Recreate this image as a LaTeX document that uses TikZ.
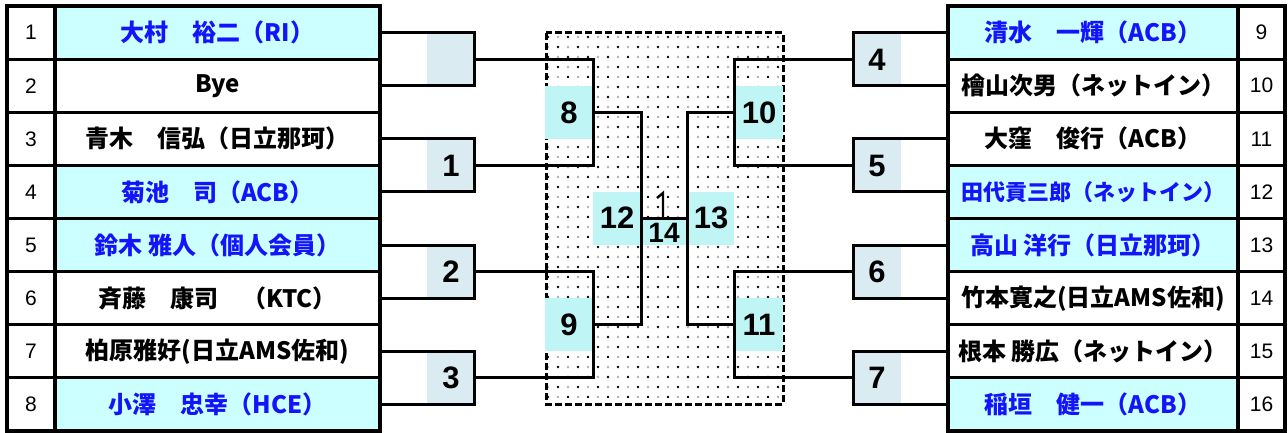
\documentclass[tikz,border=0pt]{standalone}
\usepackage{fontspec}
\setmainfont{Noto Sans CJK JP}
\newfontfamily\numfont{Liberation Sans}
\definecolor{cyanrow}{RGB}{204,255,255}
\definecolor{nameblue}{RGB}{20,20,250}
\definecolor{rfill}{RGB}{218,235,241}
\definecolor{cfill}{RGB}{192,245,245}
\tikzset{
  cell/.style={draw, line width=3.2pt, minimum height=53.125pt, inner sep=0pt, outer sep=0pt},
  namecell/.style={cell, minimum width=325pt, font=\fontsize{24}{26}\selectfont\bfseries},
  rnamecell/.style={cell, minimum width=290pt, font=\fontsize{24}{26}\selectfont\bfseries},
  numcell/.style={cell, minimum width=48pt, font=\numfont\fontsize{21}{23}\selectfont},
  hi/.style={fill=cyanrow, text=nameblue},
  bline/.style={line width=3pt},
  rlab/.style={font=\numfont\bfseries\fontsize{31}{33}\selectfont, inner sep=0pt},
}
\begin{document}
\begin{tikzpicture}[x=1pt,y=-1pt]
\useasboundingbox (0,0) rectangle (1288,433);
% ---------- dotted centre area ----------
\begin{scope}
\clip (546,33) rectangle (783,404);
\fill[white] (546,33) rectangle (783,404);
\foreach \r in {0,...,37}{
  \foreach \c in {0,...,12}{
    \fill[black] ({548+20*\c+10*mod(\r,2)},{37+10*\r}) circle (1.4pt);
    \fill[gray!60] ({558+20*\c-10*mod(\r,2)},{37+10*\r}) circle (1.3pt);
  }
}
\end{scope}
\draw[line width=3pt, dash pattern=on 7pt off 3pt] (546,33) rectangle (783,404);
% ---------- round boxes (fills) ----------
\fill[rfill] (427,32.6) rectangle (474,85.7);
\fill[rfill] (427,138.8) rectangle (474,191.9);
\fill[rfill] (427,245.1) rectangle (474,298.2);
\fill[rfill] (427,351.3) rectangle (474,404.4);
\fill[rfill] (853,32.6) rectangle (901,85.7);
\fill[rfill] (853,138.8) rectangle (901,191.9);
\fill[rfill] (853,245.1) rectangle (901,298.2);
\fill[rfill] (853,351.3) rectangle (901,404.4);
\fill[cfill] (545,85.7) rectangle (593,138.8);
\fill[cfill] (545,298.2) rectangle (593,351.3);
\fill[cfill] (734,85.7) rectangle (783,138.8);
\fill[cfill] (734,298.2) rectangle (783,351.3);
\fill[cfill] (593,191.9) rectangle (641,245.1);
\fill[cfill] (687,191.9) rectangle (734,245.1);
\fill[cfill] (641,218.5) rectangle (687,245.1);
% ---------- left table ----------
\node[numcell] (LN1) at (31,32.6) {1};
\node[numcell] (LN2) at (31,85.7) {2};
\node[numcell] (LN3) at (31,138.8) {3};
\node[numcell] (LN4) at (31,191.9) {4};
\node[numcell] (LN5) at (31,245.1) {5};
\node[numcell] (LN6) at (31,298.2) {6};
\node[numcell] (LN7) at (31,351.3) {7};
\node[numcell] (LN8) at (31,404.4) {8};
\node[namecell,hi] (L1) at (217.5,32.6) {大村　裕二（RI）};
\node[namecell] (L2) at (217.5,85.7) {Bye};
\node[namecell] (L3) at (217.5,138.8) {青木　信弘（日立那珂）};
\node[namecell,hi] (L4) at (217.5,191.9) {菊池　司（ACB）};
\node[namecell,hi] (L5) at (217.5,245.1) {鈴木 雅人（個人会員）};
\node[namecell] (L6) at (217.5,298.2) {斉藤　康司　（KTC）};
\node[namecell] (L7) at (217.5,351.3) {柏原雅好(日立AMS佐和)};
\node[namecell,hi] (L8) at (217.5,404.4) {小澤　忠幸（HCE）};
% ---------- right table ----------
\node[rnamecell,hi] (R1) at (1093,32.6) {清水　一輝（ACB）};
\node[rnamecell] (R2) at (1093,85.7) {檜山次男（ネットイン）};
\node[rnamecell] (R3) at (1093,138.8) {大窪　俊行（ACB）};
\node[rnamecell,hi,font=\fontsize{22}{24}\selectfont\bfseries] (R4) at (1093,191.9) {田代貢三郎（ネットイン）};
\node[rnamecell,hi] (R5) at (1093,245.1) {高山 洋行（日立那珂）};
\node[rnamecell] (R6) at (1093,298.2) {竹本寛之(日立AMS佐和)};
\node[rnamecell] (R7) at (1093,351.3) {根本 勝広（ネットイン）};
\node[rnamecell,hi] (R8) at (1093,404.4) {稲垣　健一（ACB）};
\node[numcell,minimum width=47pt] (RN1) at (1261.5,32.6) {9};
\node[numcell,minimum width=47pt] (RN2) at (1261.5,85.7) {10};
\node[numcell,minimum width=47pt] (RN3) at (1261.5,138.8) {11};
\node[numcell,minimum width=47pt] (RN4) at (1261.5,191.9) {12};
\node[numcell,minimum width=47pt] (RN5) at (1261.5,245.1) {13};
\node[numcell,minimum width=47pt] (RN6) at (1261.5,298.2) {14};
\node[numcell,minimum width=47pt] (RN7) at (1261.5,351.3) {15};
\node[numcell,minimum width=47pt] (RN8) at (1261.5,404.4) {16};
% ---------- bracket joints ----------
\coordinate (j1) at (474,59.2);
\coordinate (j2) at (474,165.4);
\coordinate (j3) at (474,271.6);
\coordinate (j4) at (474,377.8);
\coordinate (k1) at (593,112.3);
\coordinate (k2) at (593,324.7);
\coordinate (m)  at (641,218.5);
\coordinate (rj1) at (853,59.2);
\coordinate (rj2) at (853,165.4);
\coordinate (rj3) at (853,271.6);
\coordinate (rj4) at (853,377.8);
\coordinate (rk1) at (734,112.3);
\coordinate (rk2) at (734,324.7);
\coordinate (rm)  at (687,218.5);
% ---------- bracket lines ----------
\draw[bline] (L1.east) -| (j1); \draw[bline] (L2.east) -| (j1);
\draw[bline] (L3.east) -| (j2); \draw[bline] (L4.east) -| (j2);
\draw[bline] (L5.east) -| (j3); \draw[bline] (L6.east) -| (j3);
\draw[bline] (L7.east) -| (j4); \draw[bline] (L8.east) -| (j4);
\draw[bline] (j1) -| (k1); \draw[bline] (j2) -| (k1);
\draw[bline] (j3) -| (k2); \draw[bline] (j4) -| (k2);
\draw[bline] (k1) -| (m); \draw[bline] (k2) -| (m);
\draw[bline] (R1.west) -| (rj1); \draw[bline] (R2.west) -| (rj1);
\draw[bline] (R3.west) -| (rj2); \draw[bline] (R4.west) -| (rj2);
\draw[bline] (R5.west) -| (rj3); \draw[bline] (R6.west) -| (rj3);
\draw[bline] (R7.west) -| (rj4); \draw[bline] (R8.west) -| (rj4);
\draw[bline] (rj1) -| (rk1); \draw[bline] (rj2) -| (rk1);
\draw[bline] (rj3) -| (rk2); \draw[bline] (rj4) -| (rk2);
\draw[bline] (rk1) -| (rm); \draw[bline] (rk2) -| (rm);
\draw[bline] (m) -- (rm);
\coordinate (tk) at (663,193);
\draw[line width=2.4pt] (657,198) -- (tk) -- (663,218.5);
% ---------- round labels ----------
\node[rlab] (w1) at (451,166) {1};
\node[rlab] (w2) at (451,272) {2};
\node[rlab] (w3) at (451,378) {3};
\node[rlab] (w4) at (877,59.5) {4};
\node[rlab] (w5) at (877,165.5) {5};
\node[rlab] (w6) at (877,272) {6};
\node[rlab] (w7) at (877,378) {7};
\node[rlab] (w8) at (569,112.5) {8};
\node[rlab] (w9) at (569,325) {9};
\node[rlab] (w10) at (759,112.5) {10};
\node[rlab] (w11) at (759,325) {11};
\node[rlab] (w12) at (617,218) {12};
\node[rlab] (w13) at (711,218) {13};
\node[rlab,font=\numfont\bfseries\fontsize{28}{30}\selectfont] (w14) at (664,232.5) {14};
\end{tikzpicture}
\end{document}
